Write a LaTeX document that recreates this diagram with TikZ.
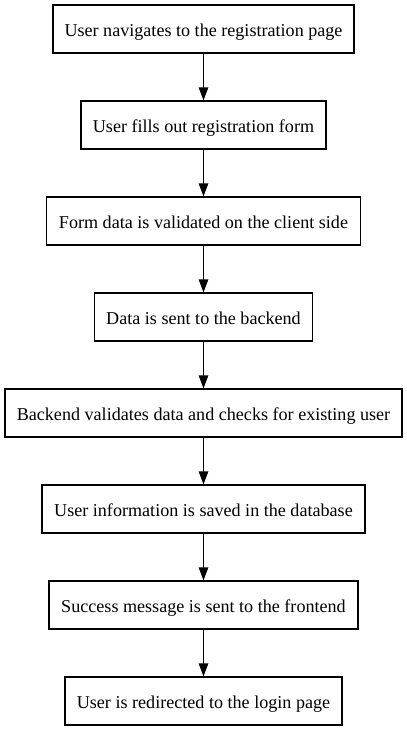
\documentclass[tikz,border=0pt]{standalone}
\usepackage{fontspec}
\setmainfont{Liberation Serif}
\usetikzlibrary{arrows.meta}
\begin{document}
\begin{tikzpicture}[x=1pt,y=1pt,
  flowbox/.style={draw, line width=1.3pt, minimum height=48pt, inner xsep=0pt, inner ysep=0pt, text height=16pt, text depth=2pt, font=\fontsize{18.1}{22}\selectfont, anchor=center},
  flowarrow/.style={line width=1.3pt, -{Triangle[length=13pt,width=9.5pt]}}]
\useasboundingbox (0,0) rectangle (407,-731);
\fill[white] (0,0) rectangle (407,-731);
\node[flowbox, minimum width=301pt] (n1) at (203.5,-29) {User navigates to the registration page};
\node[flowbox, minimum width=245pt] (n2) at (203.5,-125) {User fills out registration form};
\node[flowbox, minimum width=314pt] (n3) at (203.5,-221) {Form data is validated on the client side};
\node[flowbox, minimum width=218pt] (n4) at (203.5,-317) {Data is sent to the backend};
\node[flowbox, minimum width=397pt] (n5) at (203.5,-413) {Backend validates data and checks for existing user};
\node[flowbox, minimum width=323pt] (n6) at (203.5,-509) {User information is saved in the database};
\node[flowbox, minimum width=309pt] (n7) at (203.5,-605) {Success message is sent to the frontend};
\node[flowbox, minimum width=277pt] (n8) at (203.5,-701) {User is redirected to the login page};
\foreach \a/\b in {n1/n2,n2/n3,n3/n4,n4/n5,n5/n6,n6/n7,n7/n8}
  \draw[flowarrow] (\a.south) -- (\b.north);
\end{tikzpicture}
\end{document}
